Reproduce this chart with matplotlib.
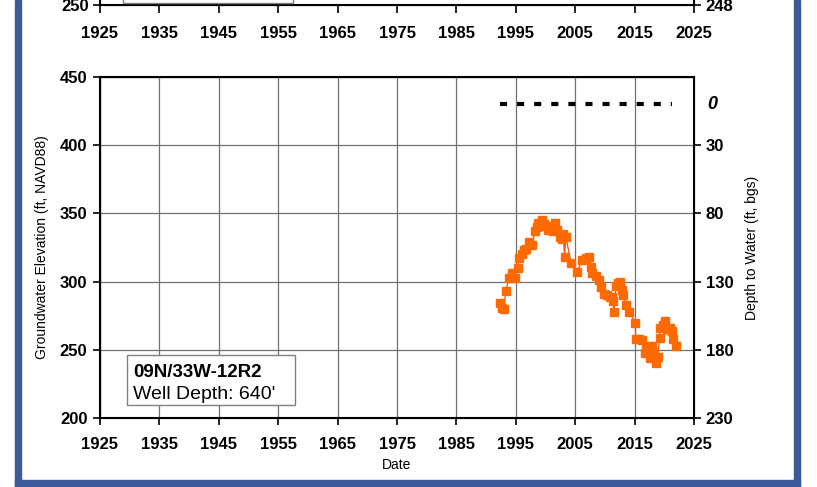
import matplotlib
matplotlib.use("Agg")
import matplotlib.pyplot as plt
from matplotlib.patches import Rectangle

plt.rcParams['font.family'] = ['Liberation Sans', 'DejaVu Sans']

# groundwater elevation readings (ft, NAVD88)
years = [
    1992.3, 1992.6, 1993.0, 1993.3, 1993.9, 1994.4, 1994.9, 1995.3, 1995.6,
    1996.0, 1996.3, 1996.7, 1997.3, 1997.8, 1998.2, 1998.5, 1998.8, 1999.4,
    1999.8, 2000.1, 2000.5, 2000.8, 2001.2, 2001.6, 2002.0, 2002.4, 2002.8,
    2003.0, 2003.2, 2003.4, 2004.3, 2005.3, 2006.2, 2006.8, 2007.3, 2007.7,
    2007.9, 2008.5, 2009.0, 2009.4, 2009.8, 2010.4, 2010.8, 2011.2, 2011.4,
    2011.5, 2011.9, 2012.2, 2012.5, 2012.9, 2013.1, 2013.6, 2014.1, 2015.1,
    2015.2, 2015.7, 2016.2, 2016.7, 2017.0, 2017.3, 2017.6, 2018.0, 2018.3,
    2018.6, 2018.9, 2019.2, 2019.3, 2019.7, 2020.1, 2020.4, 2020.6, 2021.0,
    2021.3, 2021.5, 2021.9,
]
elevation = [
    284, 281, 280, 293, 303, 306, 303, 310, 317,
    320, 323, 324, 329, 327, 337, 340, 343, 345,
    342, 341, 338, 339, 337, 343, 338, 333, 331,
    335, 318, 333, 314, 307, 316, 317, 318, 311,
    306, 304, 301, 296, 291, 290, 289, 289, 286,
    278, 297, 299, 300, 294, 290, 283, 278, 270,
    258, 258, 257, 248, 253, 251, 244, 253, 248,
    240, 245, 259, 266, 268, 271, 265, 265, 266,
    264, 258, 253,
]

# ground surface reference (depth = 0)
ground_years = [1992.3, 2021.3]
ground_elev = 430

xticks = list(range(1925, 2026, 10))
left_ticks = [200, 250, 300, 350, 400, 450]
depth_ticks = [30, 80, 130, 180, 230]

W, H = 817, 487
fig = plt.figure(figsize=(W / 100, H / 100), dpi=100)

L = 100 / W
AW = 594 / W
TICK_FS = 12

# bottom edge of the chart above (cut off)
ax0 = fig.add_axes([L, 1 - 5 / H, AW, 0.3])
ax0.set_xlim(1925, 2025)
ax0.set_ylim(250, 300)
ax0.set_xticks(xticks)
ax0.set_yticks([250])
ax0.tick_params(axis='x', direction='out', length=6, width=1.2, pad=9,
                labelsize=TICK_FS)
ax0.tick_params(axis='y', direction='inout', length=10, width=1.2, pad=3,
                labelsize=TICK_FS)
for lab in ax0.get_xticklabels() + ax0.get_yticklabels():
    lab.set_fontweight('bold')
for s in ax0.spines.values():
    s.set_linewidth(1.5)
ax0t = ax0.twinx()
ax0t.set_ylim(248, 298)
ax0t.set_yticks([248])
ax0t.tick_params(axis='y', direction='inout', length=10, width=1.2, pad=3,
                 labelsize=TICK_FS)
for lab in ax0t.get_yticklabels():
    lab.set_fontweight('bold')
fig.patches.append(Rectangle((123 / W, 1 - 3 / H), 170 / W, 0.1,
                             transform=fig.transFigure, fill=False,
                             edgecolor='#808080', linewidth=1))

# main chart
ax = fig.add_axes([L, 1 - 418 / H, AW, 341 / H])
ax.set_xlim(1925, 2025)
ax.set_ylim(200, 450)
ax.set_xticks(xticks)
ax.set_yticks(left_ticks)
ax.grid(True, color='#707070', linewidth=0.9)
ax.set_axisbelow(True)
ax.tick_params(direction='out', length=5, width=1.2, labelsize=TICK_FS)
ax.tick_params(axis='x', pad=9)
ax.tick_params(axis='y', pad=4)
for lab in ax.get_xticklabels() + ax.get_yticklabels():
    lab.set_fontweight('bold')
for s in ax.spines.values():
    s.set_linewidth(1.5)
ax.set_xlabel('Date', fontsize=10, labelpad=4)
ax.set_ylabel('Groundwater Elevation (ft, NAVD88)', fontsize=10, labelpad=8)

ax.plot(ground_years, [ground_elev, ground_elev], color='black', lw=3,
        dashes=(1.7, 2.4))
ax.plot(years, elevation, color='#e8501a', lw=0.9, marker='s', ms=5.5,
        mfc='#ff6a00', mec='#ff6a00', zorder=3)

ax2 = ax.twinx()
ax2.set_ylim(ground_elev - 200, ground_elev - 450)
ax2.set_yticks(depth_ticks)
ax2.tick_params(direction='out', length=5, width=1.2, labelsize=TICK_FS)
for lab in ax2.get_yticklabels():
    lab.set_fontweight('bold')
ax2.text(1.022, 0, '0', transform=ax2.get_yaxis_transform(), fontsize=13,
         fontweight='bold', fontstyle='italic', va='center', ha='left')
ax2.set_ylabel('Depth to Water (ft, bgs)', fontsize=10, labelpad=8)

# well label box
ax.add_patch(Rectangle((1929.5, 209.5), 28.3, 36.7, fc='white',
                       ec='#808080', lw=1, zorder=4))
ax.text(1930.6, 233.5, '09N/33W-12R2', fontsize=13.5, fontweight='bold',
        va='center', ha='left', zorder=5)
ax.text(1930.6, 217, 'Well Depth: 640\'', fontsize=14,
        va='center', ha='left', zorder=5)

# blue frame
frame = '#3c5a99'
fig.patches.append(Rectangle((15 / W, 0), 6 / W, 1, transform=fig.transFigure,
                             color=frame))
fig.patches.append(Rectangle((794 / W, 0), 6 / W, 1, transform=fig.transFigure,
                             color=frame))
fig.patches.append(Rectangle((15 / W, 1 - 486 / H), 785 / W, 6 / H,
                             transform=fig.transFigure, color=frame))

fig.savefig('out.png', dpi=100)
